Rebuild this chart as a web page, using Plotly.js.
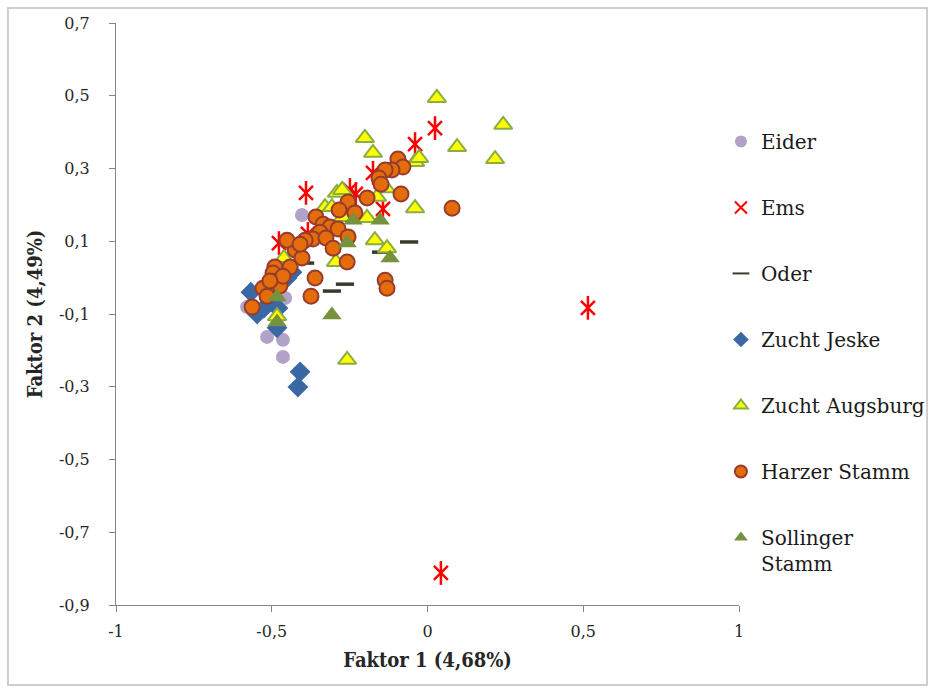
<!DOCTYPE html>
<html>
<head>
<meta charset="utf-8">
<script src="https://cdn.plot.ly/plotly-3.0.1.min.js"></script>
<style>html,body{margin:0;padding:0;background:#fff;}#chart{width:930px;height:690px;}</style>
</head>
<body>
<div id="chart"></div>
<script>
// ---- Data (Faktor 1, Faktor 2) ----
const eiderX = [-0.579, -0.457, -0.515, -0.464, -0.464, -0.403];
const eiderY = [-0.081, -0.056, -0.163, -0.171, -0.218, 0.172];

const emsX = [0.024, -0.040, -0.175, -0.390, -0.249, -0.230, -0.143, -0.477, 0.515, 0.043, -0.384];
const emsY = [0.411, 0.367, 0.288, 0.233, 0.241, 0.230, 0.189, 0.095, -0.083, -0.812, 0.120];

const oderX = [-0.059, -0.265, -0.307, -0.393, -0.149];
const oderY = [0.098, -0.018, -0.037, 0.040, 0.070];

const jeskeX = [-0.567, -0.547, -0.525, -0.480, -0.483, -0.435, -0.451, -0.409, -0.416, -0.506];
const jeskeY = [-0.040, -0.100, -0.084, -0.084, -0.138, 0.015, -0.001, -0.259, -0.301, -0.061];

const augsburgX = [0.030, 0.243, 0.095, 0.217, -0.201, -0.175, -0.040, -0.027, -0.040, -0.133, -0.162, -0.291,
  -0.274, -0.329, -0.271, -0.194, -0.169, -0.130, -0.294, -0.258, -0.483, -0.461, -0.307];
const augsburgY = [0.494, 0.420, 0.359, 0.326, 0.384, 0.343, 0.318, 0.329, 0.191, 0.246, 0.222, 0.233,
  0.241, 0.194, 0.167, 0.164, 0.103, 0.081, 0.043, -0.226, -0.106, 0.054, 0.194];

const harzerX = [-0.095, -0.079, -0.114, -0.136, -0.156, -0.149, -0.085, 0.079, -0.194, -0.255, -0.284, -0.233,
  -0.358, -0.335, -0.313, -0.287, -0.345, -0.368, -0.326, -0.393, -0.303, -0.425, -0.403, -0.451, -0.441,
  -0.490, -0.258, -0.136, -0.130, -0.361, -0.374, -0.496, -0.483, -0.474, -0.528, -0.515, -0.563, -0.255,
  -0.409, -0.464, -0.506];
const harzerY = [0.326, 0.304, 0.296, 0.296, 0.274, 0.257, 0.230, 0.191, 0.219, 0.208, 0.186, 0.178,
  0.167, 0.147, 0.139, 0.134, 0.125, 0.106, 0.109, 0.103, 0.081, 0.076, 0.054, 0.103, 0.029,
  0.029, 0.043, -0.007, -0.029, -0.001, -0.051, 0.013, -0.009, -0.023, -0.029, -0.051, -0.081, 0.112,
  0.092, 0.004, -0.009];

const sollingerX = [-0.258, -0.120, -0.307, -0.239, -0.152, -0.483, -0.483];
const sollingerY = [0.095, 0.054, -0.103, 0.158, 0.158, -0.053, -0.122];

const seriesNames = ["Eider", "Ems", "Oder", "Zucht Jeske", "Zucht Augsburg", "Harzer Stamm", "Sollinger<br>Stamm"];

const xTickVals = [-1, -0.5, 0, 0.5, 1];
const xTickText = ["-1", "-0,5", "0", "0,5", "1"];
const yTickVals = [0.7, 0.5, 0.3, 0.1, -0.1, -0.3, -0.5, -0.7, -0.9];
const yTickText = ["0,7", "0,5", "0,3", "0,1", "-0,1", "-0,3", "-0,5", "-0,7", "-0,9"];

const serif = "DejaVu Serif, Liberation Serif, serif";
const titleFont = "DejaVu Serif Condensed, DejaVu Serif, serif";

const traces = [
  {x: eiderX, y: eiderY, name: seriesNames[0], legendgroup: "g1",
   marker: {symbol: "circle", size: 14, color: "#b3a2c7", line: {width: 0}}},
  {x: emsX, y: emsY, name: seriesNames[1], legendgroup: "g2",
   marker: {symbol: "x-thin-open", size: 14, color: "#ff0000", line: {width: 2.5, color: "#ff0000"}}},
  {x: emsX, y: emsY, name: seriesNames[1], legendgroup: "g2", showlegend: false, hoverinfo: "skip",
   marker: {symbol: "line-ns-open", size: 17, color: "#ff0000", line: {width: 2.5, color: "#ff0000"}}},
  {x: oderX, y: oderY, name: seriesNames[2], legendgroup: "g3",
   marker: {symbol: "line-ew-open", size: 13, color: "#3c3a2a", line: {width: 3.5, color: "#3c3a2a"}}},
  {x: jeskeX, y: jeskeY, name: seriesNames[3], legendgroup: "g4",
   marker: {symbol: "diamond", size: 16, color: "#3a68a4", line: {width: 0}}},
  {x: augsburgX, y: augsburgY, name: seriesNames[4], legendgroup: "g5",
   marker: {symbol: "triangle-up", size: 16, color: "#ffff00", line: {width: 2, color: "#8cad45"}}},
  {x: harzerX, y: harzerY, name: seriesNames[5], legendgroup: "g6",
   marker: {symbol: "circle", size: 15, color: "#e46c0a", line: {width: 2, color: "#963c2e"}}},
  {x: sollingerX, y: sollingerY, name: seriesNames[6], legendgroup: "g7",
   marker: {symbol: "triangle-up", size: 17, color: "#76923c", line: {width: 0}}}
].map(t => Object.assign({type: "scatter", mode: "markers"}, t));

const layout = {
  width: 930, height: 690,
  margin: {l: 116, r: 191, t: 23, b: 85, autoexpand: false},
  paper_bgcolor: "#ffffff", plot_bgcolor: "#ffffff",
  showlegend: true,
  legend: {
    x: 0.971, y: 0.83, xanchor: "left", yanchor: "top",
    font: {family: serif, size: 20, color: "#1a1a1a"},
    tracegroupgap: 37, itemwidth: 30, valign: "top", itemsizing: "constant",
    bgcolor: "rgba(0,0,0,0)"
  },
  xaxis: {
    range: [-1, 1], tickvals: xTickVals, ticktext: xTickText,
    showgrid: false, zeroline: false, showline: true, linecolor: "#868686", linewidth: 1,
    ticks: "outside", ticklen: 6, tickcolor: "#868686",
    tickfont: {family: serif, size: 16, color: "#262626"},
    ticklabelstandoff: 6,
    title: {text: "Faktor 1 (4,68%)", font: {family: titleFont, size: 20, color: "#262626", weight: "bold"}, standoff: 12}
  },
  yaxis: {
    range: [-0.9, 0.7], tickvals: yTickVals, ticktext: yTickText,
    showgrid: false, zeroline: false, showline: true, linecolor: "#868686", linewidth: 1,
    ticks: "outside", ticklen: 6, tickcolor: "#868686",
    tickfont: {family: serif, size: 16, color: "#262626"},
    ticklabelstandoff: 16,
    title: {text: "Faktor 2 (4,49%)", font: {family: titleFont, size: 20, color: "#262626", weight: "bold"}, standoff: 10}
  },
  shapes: [{
    type: "rect", xref: "paper", yref: "paper", layer: "below",
    x0: -0.1734, x1: 1.3018, y0: -0.1375, y1: 1.0258,
    line: {color: "#bfbfbf", width: 1.5}, fillcolor: "rgba(0,0,0,0)"
  }]
};

Plotly.newPlot("chart", traces, layout, {displayModeBar: false, staticPlot: true});
</script>
</body>
</html>
